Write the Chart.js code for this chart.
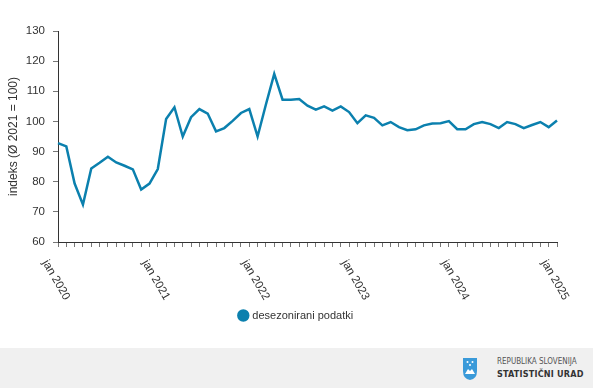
<!DOCTYPE html>
<html>
<head>
<meta charset="utf-8">
<script src="https://cdn.jsdelivr.net/npm/chart.js@4.4.1/dist/chart.umd.min.js"></script>
<style>
  html, body { margin: 0; padding: 0; background: #fff; }
  body { width: 593px; height: 388px; overflow: hidden; font-family: "Liberation Sans", Arial, sans-serif; }
  #wrap { width: 593px; height: 348px; position: relative; }
  #footer { width: 593px; height: 40px; background: #f0f0f0; position: relative; }
  #footer .t1, #footer .t2 { position: absolute; left: 497px; white-space: nowrap; font-family: "DejaVu Sans Condensed", "Liberation Sans Narrow", sans-serif; }
  #footer .t1 { top: 9px; font-size: 8px; color: #555; }
  #footer .t2 { top: 21px; font-size: 9px; font-weight: bold; color: #333; letter-spacing: 0.2px; }
</style>
</head>
<body>
<div id="wrap"><canvas id="chart" width="593" height="348"></canvas></div>
<div id="footer">
  <svg width="16" height="24" viewBox="0 0 16 24" style="position:absolute;left:462px;top:9px">
    <path d="M1 1 H15 V14 Q15 22 8 23 Q1 22 1 14 Z" fill="#3a9ad9"/>
    <circle cx="5.5" cy="5" r="1" fill="#fff"/>
    <circle cx="10.5" cy="5" r="1" fill="#fff"/>
    <circle cx="8" cy="8" r="1" fill="#fff"/>
    <path d="M3 17 L6 12 L8 14 L10 12 L13 17 Z" fill="#fff"/>
  </svg>
  <div class="t1">REPUBLIKA SLOVENIJA</div>
  <div class="t2">STATISTIČNI URAD</div>
</div>
<script>
// months and years shown on the x axis
const months = ['jan', 'feb', 'mar', 'apr', 'maj', 'jun', 'jul', 'avg', 'sep', 'okt', 'nov', 'dec'];
const years = [2020, 2021, 2022, 2023, 2024, 2025];

// y axis ticks
const yTicks = [60, 70, 80, 90, 100, 110, 120, 130];

// desezonirani podatki, jan 2020 - jan 2025
const values = [
  92.8, 91.7, 79.4, 72.4, 84.4, 86.3, 88.3, 86.4, 85.3, 84.1, 77.4, 79.4,
  84.2, 100.8, 104.7, 95.0, 101.4, 104.1, 102.6, 96.7, 97.8, 100.2, 102.8, 104.1,
  95.0, 105.6, 115.8, 107.2, 107.2, 107.4, 105.2, 103.9, 105.0, 103.6, 105.0, 103.1,
  99.4, 102.0, 101.2, 98.7, 99.8, 98.1, 97.1, 97.4, 98.7, 99.3, 99.4, 100.1,
  97.4, 97.4, 99.1, 99.8, 99.1, 97.8, 99.8, 99.1, 97.8, 98.8, 99.8, 98.1,
  100.3
];

const labels = [];
years.forEach(y => {
  months.forEach(m => {
    if (labels.length < values.length) labels.push(m + ' ' + y);
  });
});

const lineColor = '#0b80ae';
const textColor = '#333';
const fontFamily = '"Liberation Sans", Arial, sans-serif';

// rotated "jan yyyy" labels, text starting at the tick and running down-right
const janLabels = {
  id: 'janLabels',
  afterDraw(chart) {
    const ctx = chart.ctx;
    const xs = chart.scales.x;
    ctx.save();
    ctx.font = '11.5px ' + fontFamily;
    ctx.fillStyle = textColor;
    ctx.textAlign = 'center';
    ctx.textBaseline = 'middle';
    labels.forEach((lab, i) => {
      if (!lab.startsWith('jan')) return;
      const x = xs.getPixelForValue(i);
      ctx.save();
      ctx.translate(x - 2, xs.top + 38);
      ctx.rotate(Math.PI / 3);
      ctx.fillText(lab, 0, 0);
      ctx.restore();
    });
    ctx.restore();
  }
};

new Chart(document.getElementById('chart').getContext('2d'), {
  type: 'line',
  data: {
    labels: labels,
    datasets: [{
      label: 'desezonirani podatki',
      data: values,
      borderColor: lineColor,
      backgroundColor: lineColor,
      borderWidth: 2.5,
      pointRadius: 0,
      pointStyle: 'circle',
      tension: 0
    }]
  },
  options: {
    responsive: false,
    animation: false,
    layout: { padding: { top: 31, right: 0, left: 0, bottom: 17 } },
    plugins: {
      tooltip: { enabled: false },
      legend: {
        position: 'bottom',
        labels: {
          usePointStyle: true,
          boxWidth: 7,
          boxHeight: 7,
          padding: 10,
          color: textColor,
          font: { size: 11, family: fontFamily }
        }
      }
    },
    scales: {
      x: {
        grid: { drawOnChartArea: false, drawTicks: true, tickLength: 5, color: '#777' },
        border: { color: '#333', width: 1 },
        ticks: { autoSkip: false, maxRotation: 0, callback: () => '', font: { size: 1 } },
        afterFit(scale) { scale.height = 58; }
      },
      y: {
        min: 60,
        max: 130,
        afterBuildTicks(scale) { scale.ticks = yTicks.map(v => ({ value: v })); },
        grid: { drawOnChartArea: false, drawTicks: true, tickLength: 5, color: '#777' },
        border: { color: '#333', width: 1 },
        ticks: {
          color: textColor,
          padding: 8,
          font: { size: 11.5, family: fontFamily }
        },
        title: {
          display: true,
          text: 'indeks (Ø 2021 = 100)',
          color: textColor,
          padding: { top: 6, bottom: 0 },
          font: { size: 12, family: fontFamily }
        },
        afterFit(scale) { scale.width = 58; }
      },
      // empty right-hand axis, only keeps room on the right of the plot
      spacer: {
        position: 'right',
        display: true,
        grid: { display: false },
        border: { display: false },
        ticks: { display: false },
        afterFit(scale) { scale.width = 36; }
      }
    }
  },
  plugins: [janLabels]
});
</script>
</body>
</html>
